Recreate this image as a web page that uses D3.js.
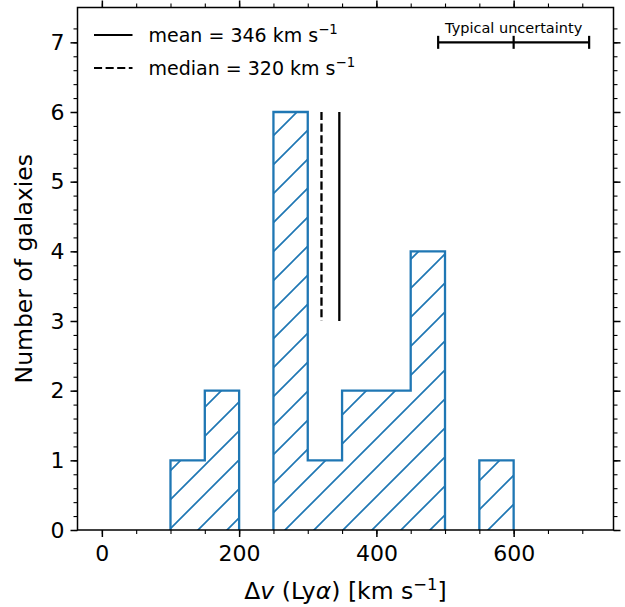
<!DOCTYPE html>
<html>
<head>
<meta charset="utf-8">
<script src="https://cdn.jsdelivr.net/npm/d3@7"></script>
<style>
  html, body { margin: 0; padding: 0; background: #fff; }
  svg { display: block; }
  text { font-family: "DejaVu Sans", sans-serif; fill: #000; }
</style>
</head>
<body>
<svg id="chart" width="625" height="607"></svg>
<script>
// ---------------- data ----------------
const binEdges = [100, 150, 200, 250, 300, 350, 400, 450, 500, 550, 600];
const counts   = [1, 2, 0, 6, 1, 2, 2, 4, 0, 1];
const meanValue = 346;
const medianValue = 320;
const statLineSpan = [3, 6];
const legendLabels = ["mean = 346 km s", "median = 320 km s"];
const uncertaintyCenter = 600;
const uncertaintyHalfWidth = 110;
const uncertaintyLevel = 7;
const uncertaintyLabel = "Typical uncertainty";
const xMajorTicks = [0, 200, 400, 600];
const xMinorTicks = [0, 50, 100, 150, 200, 250, 300, 350, 400, 450, 500, 550, 600, 650, 700];
const yMajorTicks = [0, 1, 2, 3, 4, 5, 6, 7];
const yMinorTicks = d3.range(0, 37).map(i => i / 5);
const xDomain = [-35.5, 745.5];
const yDomain = [0, 7.5];

// ---------------- layout ----------------
const L = 77.5, R = 613.5, T = 7.5, B = 530;
const blue = "#1f77b4";
const tickFont = 22, labelFont = 23.5, legendFont = 19, smallFont = 14.5;

const svg = d3.select("#chart");
const x = d3.scaleLinear().domain(xDomain).range([L, R]);
const y = d3.scaleLinear().domain(yDomain).range([B, T]);

// hatch pattern (absolute coordinates)
const hs = 29;
const defs = svg.append("defs");
const pat = defs.append("pattern")
  .attr("id", "hatch")
  .attr("patternUnits", "userSpaceOnUse")
  .attr("width", hs).attr("height", hs)
  .attr("x", 3).attr("y", 0);
pat.append("path")
  .attr("d", `M0,${hs} L${hs},0 M-2,2 L2,-2 M${hs-2},${hs+2} L${hs+2},${hs-2}`)
  .attr("stroke", blue).attr("stroke-width", 1.7).attr("fill", "none");

// histogram step path (fill polygon)
const pts = [[binEdges[0], 0]];
counts.forEach((c, i) => { pts.push([binEdges[i], c]); pts.push([binEdges[i + 1], c]); });
pts.push([binEdges[binEdges.length - 1], 0]);
const line = d3.line().x(d => x(d[0])).y(d => y(d[1]));
svg.append("path").attr("d", line(pts) + "Z")
  .attr("fill", "url(#hatch)").attr("stroke", "none");

// outline: skip segments lying on the baseline (hidden under the spine)
const outPts = [];
for (let i = 0; i < pts.length; i++) {
  if (i > 0 && pts[i][1] === 0 && pts[i - 1][1] === 0) outPts.push(null);
  outPts.push(pts[i]);
}
const outline = d3.line().defined(d => d !== null).x(d => x(d[0])).y(d => y(d[1]));
svg.append("path").attr("d", outline(outPts))
  .attr("fill", "none").attr("stroke", blue).attr("stroke-width", 2.3)
  .attr("stroke-linejoin", "miter");

// mean & median lines
svg.append("line")
  .attr("x1", x(meanValue)).attr("x2", x(meanValue))
  .attr("y1", y(statLineSpan[0])).attr("y2", y(statLineSpan[1]))
  .attr("stroke", "#000").attr("stroke-width", 2.3);
svg.append("line")
  .attr("x1", x(medianValue)).attr("x2", x(medianValue))
  .attr("y1", y(statLineSpan[1])).attr("y2", y(statLineSpan[0]))
  .attr("stroke", "#000").attr("stroke-width", 2.3)
  .attr("stroke-dasharray", "8.1,3.5");

// typical uncertainty errorbar
const ey = y(uncertaintyLevel);
const ex0 = x(uncertaintyCenter - uncertaintyHalfWidth), ex1 = x(uncertaintyCenter + uncertaintyHalfWidth);
const eb = svg.append("g").attr("stroke", "#000").attr("stroke-width", 2.2);
eb.append("line").attr("x1", ex0).attr("x2", ex1).attr("y1", ey).attr("y2", ey);
[ex0, x(uncertaintyCenter), ex1].forEach(px => {
  eb.append("line").attr("x1", px).attr("x2", px).attr("y1", ey - 6.5).attr("y2", ey + 6.5);
});
svg.append("text").attr("x", x(uncertaintyCenter)).attr("y", 33)
  .attr("text-anchor", "middle").attr("font-size", smallFont).text(uncertaintyLabel);

// legend
const legRows = [35, 68];
legendLabels.forEach((lab, i) => {
  const ly = legRows[i];
  svg.append("line").attr("x1", 94).attr("x2", 132.5).attr("y1", ly).attr("y2", ly)
    .attr("stroke", "#000").attr("stroke-width", 2.2)
    .attr("stroke-dasharray", i === 1 ? "8.1,3.5" : null);
  const t = svg.append("text").attr("x", 148.5).attr("y", ly + 6.8).attr("font-size", legendFont);
  t.append("tspan").text(lab);
  t.append("tspan").attr("dy", -8).attr("font-size", legendFont * 0.7).text("\u22121");
});

// axes
const fmt = d3.format("d");
const axB = svg.append("g").attr("transform", `translate(0,${B})`)
  .call(d3.axisBottom(x).tickValues(xMajorTicks).tickFormat(fmt).tickSize(7).tickPadding(8).tickSizeOuter(0));
const axBm = svg.append("g").attr("transform", `translate(0,${B})`)
  .call(d3.axisBottom(x).tickValues(xMinorTicks).tickFormat("").tickSize(4).tickSizeOuter(0));
const axT = svg.append("g").attr("transform", `translate(0,${T})`)
  .call(d3.axisTop(x).tickValues(xMajorTicks).tickFormat("").tickSize(7).tickSizeOuter(0));
const axTm = svg.append("g").attr("transform", `translate(0,${T})`)
  .call(d3.axisTop(x).tickValues(xMinorTicks).tickFormat("").tickSize(4).tickSizeOuter(0));
const axL = svg.append("g").attr("transform", `translate(${L},0)`)
  .call(d3.axisLeft(y).tickValues(yMajorTicks).tickFormat(fmt).tickSize(7).tickPadding(6).tickSizeOuter(0));
const axLm = svg.append("g").attr("transform", `translate(${L},0)`)
  .call(d3.axisLeft(y).tickValues(yMinorTicks).tickFormat("").tickSize(4).tickSizeOuter(0));
const axR = svg.append("g").attr("transform", `translate(${R},0)`)
  .call(d3.axisRight(y).tickValues(yMajorTicks).tickFormat("").tickSize(7).tickSizeOuter(0));
const axRm = svg.append("g").attr("transform", `translate(${R},0)`)
  .call(d3.axisRight(y).tickValues(yMinorTicks).tickFormat("").tickSize(4).tickSizeOuter(0));

[axB, axT, axL, axR].forEach(g => {
  g.select(".domain").remove();
  g.selectAll(".tick line").attr("stroke", "#000").attr("stroke-width", 1.5);
  g.selectAll(".tick text").attr("font-size", tickFont).attr("font-family", "DejaVu Sans").attr("fill", "#000");
});
[axBm, axTm, axLm, axRm].forEach(g => {
  g.select(".domain").remove();
  g.selectAll(".tick line").attr("stroke", "#000").attr("stroke-width", 1.1);
});

// spines (frame)
svg.append("rect").attr("x", L).attr("y", T).attr("width", R - L).attr("height", B - T)
  .attr("fill", "none").attr("stroke", "#000").attr("stroke-width", 1.5);

// axis labels
const xl = svg.append("text").attr("x", (L + R) / 2).attr("y", 599)
  .attr("text-anchor", "middle").attr("font-size", labelFont);
xl.append("tspan").text("\u0394");
xl.append("tspan").attr("font-style", "italic").text("v");
xl.append("tspan").text(" (Ly");
xl.append("tspan").attr("font-style", "italic").text("\u03b1");
xl.append("tspan").text(") [km s");
xl.append("tspan").attr("dy", -9.5).attr("font-size", labelFont * 0.7).text("\u22121");
xl.append("tspan").attr("dy", 9.5).text("]");

svg.append("text")
  .attr("transform", `translate(32,${(T + B) / 2}) rotate(-90)`)
  .attr("text-anchor", "middle").attr("font-size", labelFont)
  .text("Number of galaxies");
</script>
</body>
</html>
